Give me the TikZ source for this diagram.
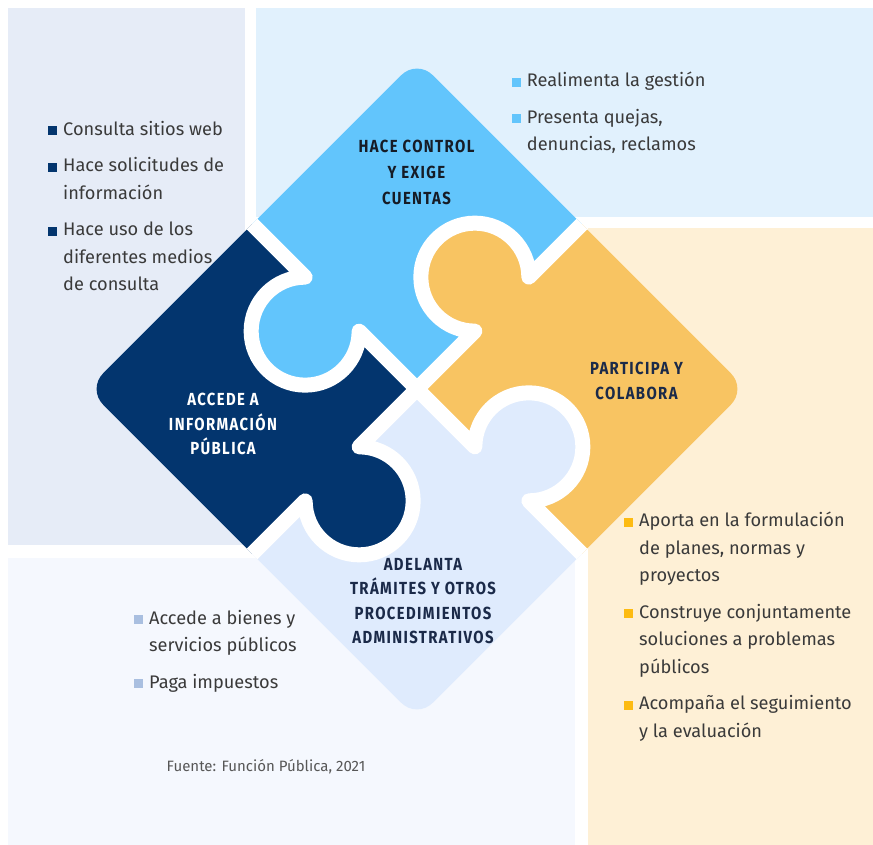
\documentclass[tikz,border=0pt]{standalone}
\usepackage{fontspec}
\setmainfont{Fira Sans}
\newfontfamily\ttlfont[FakeStretch=0.85,LetterSpace=8]{Fira Sans}
\usetikzlibrary{positioning}
\definecolor{bgTL}{HTML}{E6ECF7}
\definecolor{bgTR}{HTML}{E1F1FD}
\definecolor{bgBR}{HTML}{FEF0D6}
\definecolor{bgBL}{HTML}{F5F8FE}
\definecolor{pcBlue}{HTML}{62C5FC}
\definecolor{pcNavy}{HTML}{03356E}
\definecolor{pcGold}{HTML}{F8C462}
\definecolor{pcPale}{HTML}{DFEBFD}
\definecolor{sqPale}{HTML}{A9BFE0}
\definecolor{sqGold}{HTML}{FDBB12}
\definecolor{txtGray}{HTML}{3A3A3A}
\definecolor{ttlNavy}{HTML}{1B2A49}
\definecolor{ttlDark}{HTML}{161C26}
\newcommand{\sq}[1]{\makebox[0pt][r]{\textcolor{#1}{\rule{9pt}{9pt}}\hspace{6pt}}}
\def\pa{233}
\def\pp{120}
\def\pr{54}
\def\ph{38.18}
\def\pR{22}

\begin{document}
\begin{tikzpicture}[x=1pt, y=1pt,
  gap/.style={draw=white, line width=15pt, line join=round},
  lst/.style={anchor=base west, align=left, inner sep=0, text=txtGray, font=\fontsize{18.2}{27.5}\selectfont},
  ttl/.style={align=center, inner sep=0, text=ttlNavy, font=\ttlfont\bfseries\fontsize{17.5}{24.5}\selectfont}]
\useasboundingbox (0,0) rectangle (873,845);
\fill[bgTL] (8,300) rectangle (245,837);
\fill[bgTR] (256,628) rectangle (873,837);
\fill[bgBR] (588,0) rectangle (873,617);
\fill[bgBL] (8,0) rectangle (575,287);
\foreach \ang/\col in {45/pcBlue, 135/pcNavy, 225/pcPale, 315/pcGold}{
  \begin{scope}[shift={(417,456)}, rotate=\ang]
  \fill[\col] (0,0) -- (\pp-\ph,0) arc[start angle=225, end angle=-45, radius=\pr] -- (\pa,0) -- (\pa,\pa-\pR) arc[start angle=0, end angle=90, radius=\pR] -- (0,\pa) -- (0,\pp+\ph) arc[start angle=45, end angle=315, radius=\pr] -- cycle;
  \end{scope}
}
\foreach \ang in {45, 135, 225, 315}{
  \begin{scope}[shift={(417,456)}, rotate=\ang]
  \draw[gap] (0,\pa) -- (0,\pp+\ph) arc[start angle=45, end angle=315, radius=\pr] -- (0,0);
  \end{scope}
}
\node[ttl, text=ttlDark, font=\ttlfont\bfseries\fontsize{17.5}{26}\selectfont] (ctrl) at (416.5,672.5) {HACE CONTROL\\Y EXIGE\\CUENTAS};
\node[ttl, text=white] (acc) at (223,421) {ACCEDE A\\INFORMACIÓN\\PÚBLICA};
\node[ttl] (part) at (636.5,464) {PARTICIPA Y\\COLABORA};
\node[ttl] (adel) at (423,244) {ADELANTA\\TRÁMITES Y OTROS\\PROCEDIMIENTOS\\ADMINISTRATIVOS};
\node[lst] (consulta) at (63,554) {\sq{pcNavy}Consulta sitios web\\[9pt]\sq{pcNavy}Hace solicitudes de\\información\\[9pt]\sq{pcNavy}Hace uso de los\\diferentes medios\\de consulta};
\node[lst] (gestion) at (526.7,694.3) {\sq{pcBlue}Realimenta la gestión\\[9pt]\sq{pcBlue}Presenta quejas,\\denuncias, reclamos};
\node[lst] (bienes) at (149,156.7) {\sq{sqPale}Accede a bienes y\\servicios públicos\\[9pt]\sq{sqPale}Paga impuestos};
\node[lst] (aporta) at (639,107.7) {\sq{sqGold}Aporta en la formulación\\de planes, normas y\\proyectos\\[9pt]\sq{sqGold}Construye conjuntamente\\soluciones a problemas\\públicos\\[9pt]\sq{sqGold}Acompaña el seguimiento\\y la evaluación};
\node[anchor=base, inner sep=0, text=txtGray!85, font=\fontsize{15}{18}\selectfont] (fuente) at (266,73.3) {Fuente: Función Pública, 2021};
\end{tikzpicture}
\end{document}
